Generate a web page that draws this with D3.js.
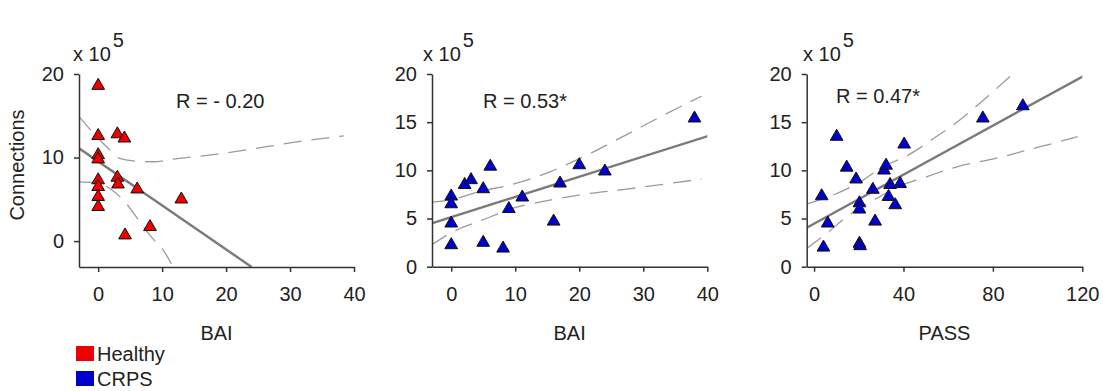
<!DOCTYPE html>
<html>
<head>
<meta charset="utf-8">
<script src="https://cdn.jsdelivr.net/npm/d3@7"></script>
<style>
  body { margin: 0; background: #fff; }
  svg text { font-family: "Liberation Sans", Arial, sans-serif; fill: #222; }
</style>
</head>
<body>
<svg id="chart" width="1103" height="391"></svg>
<script>
// Healthy: BAI vs connections (x 10^5)
const healthyBAI  = [0, 0, 0, 0, 0, 0, 0, 0, 3, 4.1, 3, 3.1, 6.1, 13, 8.1, 4.2];
const healthyConn = [18.6, 12.6, 10.3, 9.8, 7.3, 6.5, 5.3, 4.1, 12.8, 12.3, 7.6, 6.8, 6.2, 5.0, 1.7, 0.7];
const healthyFit   = [[-3, 11.1], [24, -3.1]];
const healthyUpper = [[-3, 14.9], [1.3, 11.3], [3.4, 9.9], [5.5, 9.6], [8.6, 9.5], [11.7, 9.8],
                      [18.5, 10.4], [26.3, 11.3], [33.1, 12.1], [38.4, 12.6]];
const healthyLower = [[-3, 7.1], [-0.25, 7.0], [1.8, 6.3], [4.4, 4.5], [6.5, 2.3], [8.3, 0.5],
                      [10.2, -1.1], [11.7, -3.1]];

// CRPS: BAI vs connections
const crpsBAI     = [0, 0, 0, 0, 2.1, 3.1, 5, 6.1, 5, 8.1, 9, 11.1, 16, 17, 20, 24, 38];
const crpsBAIConn = [7.3, 6.5, 4.5, 2.25, 8.5, 9.0, 8.06, 10.4, 2.5, 1.9, 6.0, 7.2, 4.7, 8.65, 10.55, 9.9, 15.4];
const crpsBAIFit   = [[-3.1, 4.5], [40.1, 13.56]];
const crpsBAIUpper = [[-3.1, 6.7], [-0.3, 6.9], [4.4, 7.8], [9.6, 8.55], [15.4, 9.85], [20.6, 11.4],
                      [26.8, 13.5], [33.1, 15.7], [39.1, 17.7]];
const crpsBAILower = [[-3.1, 2.25], [0.8, 3.8], [4.9, 4.85], [9.6, 6.05], [15.4, 6.9], [21.1, 7.55],
                      [26.8, 8.0], [33.1, 8.55], [39.1, 9.1]];

// CRPS: PASS vs connections
const crpsPASS     = [3.4, 4.2, 6.1, 10.1, 14.6, 18.8, 20.3, 20.3, 20.3, 20.6, 26.3, 27.3, 31.3, 32.2,
                      33.3, 34, 36.3, 38.5, 40.3, 75.5, 93.4];
const crpsPASSConn = [7.33, 2.0, 4.5, 13.5, 10.3, 9.07, 6.6, 5.95, 2.4, 2.15, 8.0, 4.7, 10.0, 10.5,
                      7.26, 8.5, 6.4, 8.6, 12.7, 15.4, 16.67];
const crpsPASSFit   = [[-3.3, 4.05], [120.6, 19.8]];
const crpsPASSUpper = [[-3.3, 6.5], [8.6, 7.44], [20.6, 8.8], [31, 10.4], [41.5, 11.5], [53.4, 13.3],
                       [63.9, 15.0], [75.8, 17.3], [88.9, 20.0]];
const crpsPASSLower = [[-3.3, 1.9], [5.7, 3.46], [14.6, 5.2], [26.6, 6.9], [38.5, 8.37], [50.5, 9.34],
                       [63.9, 10.37], [80.3, 11.2], [101.2, 12.45], [117.9, 13.5]];

const legendItems = [["Healthy", "#ee0000"], ["CRPS", "#0000cc"]];

const panels = [
    { id: "p1", xs: healthyBAI, ys: healthyConn, fit: healthyFit, upper: healthyUpper, lower: healthyLower,
      color: "#ee0000", xDomain: [-3, 40], xRange: [79, 354], yDomain: [-3.1, 20], yRange: [267, 74],
      xTicks: [0, 10, 20, 30, 40], yTicks: [0, 10, 20], xTitle: "BAI",
      rText: "R = - 0.20", rX: 176, rY: 108, yTitle: "Connections", expX: 73 },
    { id: "p2", xs: crpsBAI, ys: crpsBAIConn, fit: crpsBAIFit, upper: crpsBAIUpper, lower: crpsBAILower,
      color: "#0000cc", xDomain: [-3, 40], xRange: [432, 707.3], yDomain: [0, 20], yRange: [266.7, 74],
      xTicks: [0, 10, 20, 30, 40], yTicks: [0, 5, 10, 15, 20], xTitle: "BAI",
      rText: "R = 0.53*", rX: 483, rY: 108, expX: 423 },
    { id: "p3", xs: crpsPASS, ys: crpsPASSConn, fit: crpsPASSFit, upper: crpsPASSUpper, lower: crpsPASSLower,
      color: "#0000cc", xDomain: [-3.3, 120], xRange: [806.7, 1082.3], yDomain: [0, 20], yRange: [266.7, 74],
      xTicks: [0, 40, 80, 120], yTicks: [0, 5, 10, 15, 20], xTitle: "PASS",
      rText: "R = 0.47*", rX: 836, rY: 103, expX: 803 }
];

const svg = d3.select("#chart");
const fontSize = 20;

panels.forEach(p => {
    const x = d3.scaleLinear().domain(p.xDomain).range(p.xRange);
    const y = d3.scaleLinear().domain(p.yDomain).range(p.yRange);
    const g = svg.append("g");

    // clip region = plot area
    svg.append("clipPath").attr("id", "clip-" + p.id)
        .append("rect")
        .attr("x", p.xRange[0]).attr("y", p.yRange[1])
        .attr("width", p.xRange[1] - p.xRange[0])
        .attr("height", p.yRange[0] - p.yRange[1]);

    const line = d3.line().x(d => x(d[0])).y(d => y(d[1]));
    const curve = d3.line().x(d => x(d[0])).y(d => y(d[1])).curve(d3.curveMonotoneX);
    const lines = g.append("g").attr("clip-path", `url(#clip-${p.id})`);

    lines.append("path").attr("d", curve(p.upper))
        .attr("fill", "none").attr("stroke", "#9a9a9a").attr("stroke-width", 1.3)
        .attr("stroke-dasharray", "18,10");
    lines.append("path").attr("d", curve(p.lower))
        .attr("fill", "none").attr("stroke", "#9a9a9a").attr("stroke-width", 1.3)
        .attr("stroke-dasharray", "18,10");
    lines.append("path").attr("d", line(p.fit))
        .attr("fill", "none").attr("stroke", "#7a7a7a").attr("stroke-width", 2.4);

    // axes
    const xAxis = g.append("g")
        .attr("transform", `translate(0,${p.yRange[0]})`)
        .call(d3.axisBottom(x).tickValues(p.xTicks).tickSize(5).tickPadding(15).tickSizeOuter(0));
    const yAxis = g.append("g")
        .attr("transform", `translate(${p.xRange[0]},0)`)
        .call(d3.axisLeft(y).tickValues(p.yTicks).tickSize(5).tickPadding(10).tickSizeOuter(0));
    [xAxis, yAxis].forEach(a => {
        a.select(".domain").attr("stroke", "#333").attr("stroke-width", 1.5);
        a.selectAll(".tick line").attr("stroke", "#333").attr("stroke-width", 1.5);
        a.selectAll(".tick text").attr("font-size", fontSize)
            .attr("font-family", "Liberation Sans, Arial, sans-serif").attr("fill", "#222");
    });

    // points
    const tri = d3.symbol().type(d3.symbolTriangle).size(70);
    g.append("g").selectAll("path")
        .data(p.xs.map((v, i) => [v, p.ys[i]]))
        .join("path")
        .attr("d", tri)
        .attr("transform", d => `translate(${x(d[0])},${y(d[1])})`)
        .attr("fill", p.color)
        .attr("stroke", "#111").attr("stroke-width", 1);

    // texts
    g.append("text").attr("x", (p.xRange[0] + p.xRange[1]) / 2).attr("y", 340)
        .attr("text-anchor", "middle").attr("font-size", fontSize).text(p.xTitle);
    g.append("text").attr("x", p.rX).attr("y", p.rY)
        .attr("font-size", fontSize).text(p.rText);
    const exp = g.append("text").attr("x", p.expX).attr("y", 61).attr("font-size", fontSize);
    exp.append("tspan").text("x 10");
    exp.append("tspan").attr("dy", -14).attr("dx", 2).text("5");
    if (p.yTitle) {
        g.append("text")
            .attr("transform", `translate(24,165) rotate(-90)`)
            .attr("text-anchor", "middle").attr("font-size", fontSize).text(p.yTitle);
    }
});

// legend
const legend = svg.append("g");
legend.selectAll("rect")
    .data(legendItems)
    .join("rect")
    .attr("x", 76).attr("y", (d, i) => 346 + i * 25)
    .attr("width", 18).attr("height", 15)
    .attr("fill", d => d[1]);
legend.selectAll("text")
    .data(legendItems)
    .join("text")
    .attr("x", 97).attr("y", (d, i) => 361 + i * 25)
    .attr("font-size", fontSize)
    .text(d => d[0]);
</script>
</body>
</html>
